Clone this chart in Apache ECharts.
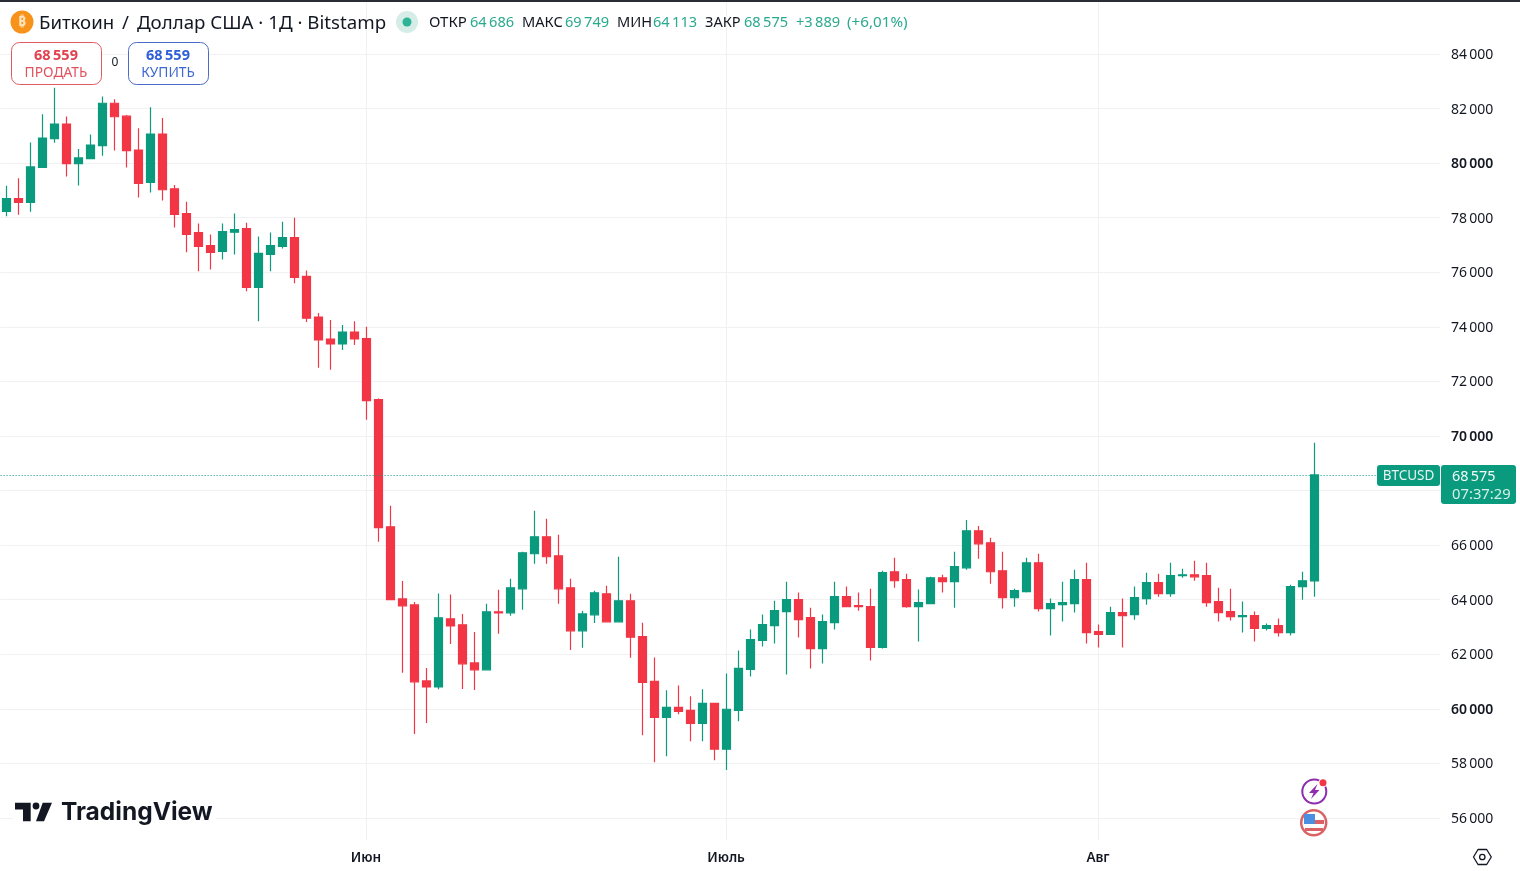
<!DOCTYPE html>
<html><head><meta charset="utf-8">
<script src="https://cdn.jsdelivr.net/npm/echarts@6/dist/echarts.min.js"></script>
<style>html,body{margin:0;padding:0;background:#fff}#c{width:1520px;height:871px}</style></head>
<body><div id="c"></div>
<script>
const opens=[78230,78700,78560,79840,80895,81430,79980,80165,80640,82195,81720,80480,79290,81065,79060,78150,77455,76980,76765,77470,77600,75450,76655,76945,77275,75850,74360,73555,73375,73810,
73570,71335,66675,64030,63810,61025,60805,63300,63080,61685,61430,63555,63520,64400,65685,66305,65610,64435,62860,63445,64215,63190,63960,62650,61005,59690,60055,59945,59470,60200,
58520,59945,61445,62505,63050,63565,64000,63345,62210,63160,64110,63785,63745,62250,65025,64735,63745,63855,64805,64660,65170,66525,66085,65060,64075,64295,65355,63675,63820,63855,64735,
62830,62725,63530,63455,64040,64625,64220,64880,64915,64880,63930,63565,63380,63420,62945,63050,62795,64480,64686];
const closes=[78700,78560,79860,80920,81430,79980,80190,80665,82195,81700,80460,79255,81065,79025,78125,77385,76945,76730,77490,77565,75450,76690,76980,77275,75815,74320,73520,73375,73810,73555,
71300,66640,64000,63775,60990,60805,63335,63040,61650,61430,63555,63520,64435,65720,66305,65575,64400,62860,63480,64255,63190,63960,62625,60970,59690,60055,59910,59470,60200,58520,
59985,61480,62540,63090,63600,64000,63270,62210,63200,64110,63745,63745,62250,64990,64695,63745,63890,64805,64660,65210,66525,66050,65025,64075,64330,65355,63675,63855,63890,64735,62795,
62725,63530,63420,64075,64625,64220,64880,64915,64840,63890,63530,63380,63420,62945,63050,62795,64480,64695,68575];
const lows=[78050,78110,78220,79840,80750,79510,79180,80165,80275,80460,79840,78745,78925,78635,77640,76730,76035,76105,76470,76655,75305,74210,76035,76875,75600,74175,72500,72425,73155,73335,
70600,66125,64000,61320,59080,59480,60720,62380,60730,60695,61430,62750,63410,63630,65315,65315,63850,62160,62235,63150,63190,63190,61870,59030,58045,58265,59800,58815,58815,58120,
57755,59545,61190,62285,62395,61260,62615,61480,61665,62905,63745,63600,61775,62210,64440,63710,62470,63855,64260,63710,65100,65500,64585,63675,63745,64260,63565,62685,63200,63530,62395,
62250,62725,62250,63270,63820,64110,64110,64805,64695,63745,63200,63235,62795,62470,62870,62650,62685,64000,64113];
const highs=[79170,79450,80760,81790,82765,81710,80520,81050,82440,82340,81760,81280,82050,81650,79195,78585,77785,77385,77785,78150,77820,77310,77455,77855,78000,76070,74505,74250,74065,74210,
74000,71370,67445,64690,63920,61500,64230,64190,63480,62820,63850,64365,64765,65760,67260,66970,66380,64765,63590,64325,64510,65575,64215,63160,61885,60680,60860,60460,60715,60200,
61300,62140,62905,63455,63965,64660,64260,63710,63455,64660,64480,64260,64405,65060,65535,64950,64370,64840,64915,65755,66925,66705,66270,65755,64405,65535,65685,64040,64660,65100,65355,
63090,63745,64040,64480,64990,64950,65355,65135,65430,65355,64440,64405,63930,63565,63125,63310,64550,65025,69749];
const monthLabels=['Июн','Июль','Авг'];
const monthIndex=[30,60,91];
const slotCount=120;
const lastPrice=68575;
const yTicksBold=[60000,70000,80000];

const UP='#0A9A7E',DOWN='#F23645',INK='#131722',GRID='#F1F1F3';
const FONT='"Noto Sans",sans-serif';
const categories=Array.from({length:slotCount},(_,i)=>String(i));
const candles=opens.map((o,i)=>[o,closes[i],lows[i],highs[i]]);
const fmt=v=>String(v).replace(/\B(?=(\d{3})+$)/g,'\u2009');

function txt(text,x,y,fill,size,weight,align,z,family){
  return {type:'text',z:z||60,silent:true,style:{text,x,y,fill,font:`${weight||400} ${size}px ${family||FONT}`,textAlign:align||'left',textVerticalAlign:'middle'}};
}
function box(x,y,w,h,r,fill,stroke,lw,z){
  return {type:'rect',z:z||50,silent:true,shape:{x,y,width:w,height:h,r},style:{fill,stroke:stroke||null,lineWidth:lw||0}};
}
function circ(cx,cy,r,fill,stroke,lw,z){
  return {type:'circle',z:z||50,silent:true,shape:{cx,cy,r},style:{fill,stroke:stroke||null,lineWidth:lw||0}};
}
function poly(points,fill,stroke,lw,z){
  return {type:'polygon',z:z||60,silent:true,shape:{points},style:{fill,stroke:stroke||null,lineWidth:lw||0,lineJoin:'round'}};
}
const GV='#2BA98F',HS=14.6;
const graphics=[
  box(0,0,1520,2,0,'#2A2D33'),
  // header
  circ(22,22,11.5,'#F7931A'),
  txt('₿',22,22.5,'#FFE3BC',14,700,'center'),
  txt('Биткоин',39,24,INK,18.6,400),
  txt('/',122,24,INK,18.6,400),
  txt('Доллар США · 1Д · Bitstamp',137,24,INK,18.7,400),
  circ(407,22,11,'#D6ECE7'),
  circ(407,22,4.5,'#2DB395'),
  txt('ОТКР',429,23,INK,15,400),txt(fmt(64686),470,23,GV,HS,400),
  txt('МАКС',522,23,INK,HS,400),txt(fmt(69749),565,23,GV,HS,400),
  txt('МИН',617,23,INK,HS,400),txt(fmt(64113),653,23,GV,HS,400),
  txt('ЗАКР',705,23,INK,HS,400),txt(fmt(68575),744,23,GV,HS,400),
  txt('+3\u2009889',796,23,GV,HS,400),txt('(+6,01%)',847,23,GV,15.2,400),
  // buy/sell buttons
  box(11.5,42.5,90,42,8,'#fff','#DE5A64',1),
  txt(fmt(68559),56,56,'#E0424E',14.5,700,'center'),
  txt('ПРОДАТЬ',56,73,'#E0525D',13.8,400,'center'),
  txt('0',115,63,INK,12,400,'center'),
  box(128.5,42.5,80,42,8,'#fff','#4A6CC8',1),
  txt(fmt(68559),168,56,'#2F5FD8',14.5,700,'center'),
  txt('КУПИТЬ',168,73,'#3F68CF',13.8,400,'center'),
  // logo
  box(13,798,203,28,0,'#fff'),
  poly([[15,802.7],[30.7,802.7],[30.7,821.3],[23,821.3],[23,809.5],[15,809.5]],'#131722'),
  circ(36,806,3.4,'#131722',null,0,60),
  poly([[42.7,802.7],[52,802.7],[44,821.3],[36,821.3]],'#131722'),
  txt('TradingView',61,813,'#131722',24.5,700,'left',60,'Inter,sans-serif'),
  // price tag
  box(1377,465,63,21,3,UP),
  txt('BTCUSD',1408.5,476.5,'#E6F5F1',13.5,400,'center'),
  box(1441,465,75,39,3,UP),
  txt(fmt(lastPrice),1452,477,'#F1FAF8',14.4,400),
  txt('07:37:29',1452,495,'#D4EFE8',14.8,400),
  // icons
  circ(1314.3,791.5,12,'#fff','#8E2CAE',2),
  poly([[1317.5,784],[1309,793],[1313.5,793],[1311,799],[1319.5,790],[1315,790]],'#8E2CAE'),
  circ(1323,782.7,4.5,'#fff'),
  circ(1323,782.7,3.5,'#F23645',null,0,60),
  circ(1313.7,822.7,12.5,'#fff','#DB6264',2.5),
  box(1304,820,20,4,0,'#DB6264',null,0,55),
  box(1305,828,18,3,0,'#DB6264',null,0,55),
  box(1304,814,11,10,0,'#4A8FE0',null,0,56),
  // settings hexagon
  poly([[1473.5,857],[1478,849.5],[1486.7,849.5],[1491.3,857],[1486.7,864.5],[1478,864.5]],'none',INK,1.3),
  circ(1482.3,857,2.7,'none',INK,1.3,60)
];

const chart=echarts.init(document.getElementById('c'),null,{renderer:'canvas'});
chart.setOption({
  animation:false,
  backgroundColor:'#fff',
  grid:[
    {left:0.6,width:1440,top:54,height:764,containLabel:false},
    {left:0,width:1440,top:2,height:838,containLabel:false}
  ],
  xAxis:[
    {type:'category',gridIndex:0,data:categories,show:false,boundaryGap:true},
    {type:'category',gridIndex:1,data:categories,boundaryGap:true,
      axisLine:{show:false},axisTick:{show:false},
      splitLine:{show:true,alignWithLabel:true,interval:i=>monthIndex.includes(i),lineStyle:{color:GRID,width:1}},
      axisLabel:{show:true,interval:i=>monthIndex.includes(i),margin:11,
        formatter:(v,i)=>monthLabels[monthIndex.indexOf(+v)]||'',
        color:INK,fontFamily:FONT,fontSize:13.5,fontWeight:600}}
  ],
  yAxis:[
    {type:'value',gridIndex:0,position:'right',min:56000,max:84000,interval:2000,
      axisLine:{show:false},axisTick:{show:false},
      splitLine:{show:true,lineStyle:{color:GRID,width:1}},
      axisLabel:{show:true,margin:10.4,align:'left',
        formatter:v=>yTicksBold.includes(v)?`{b|${fmt(v)}}`:`{n|${fmt(v)}}`,
        rich:{n:{color:INK,fontFamily:FONT,fontSize:14,padding:[2,0,0,0]},b:{color:INK,fontFamily:FONT,fontSize:14,fontWeight:600,padding:[2,0,0,0]}}}},
    {type:'value',gridIndex:1,min:0,max:1,show:false}
  ],
  series:[{
    type:'candlestick',xAxisIndex:0,yAxisIndex:0,data:candles,barWidth:8,
    itemStyle:{color:UP,color0:DOWN,borderColor:UP,borderColor0:DOWN,borderWidth:1.2},
    markLine:{silent:true,symbol:'none',animation:false,label:{show:false},
      lineStyle:{color:UP,type:[1,2],width:1},data:[{yAxis:lastPrice}]}
  }],
  graphic:graphics
});
</script></body></html>
